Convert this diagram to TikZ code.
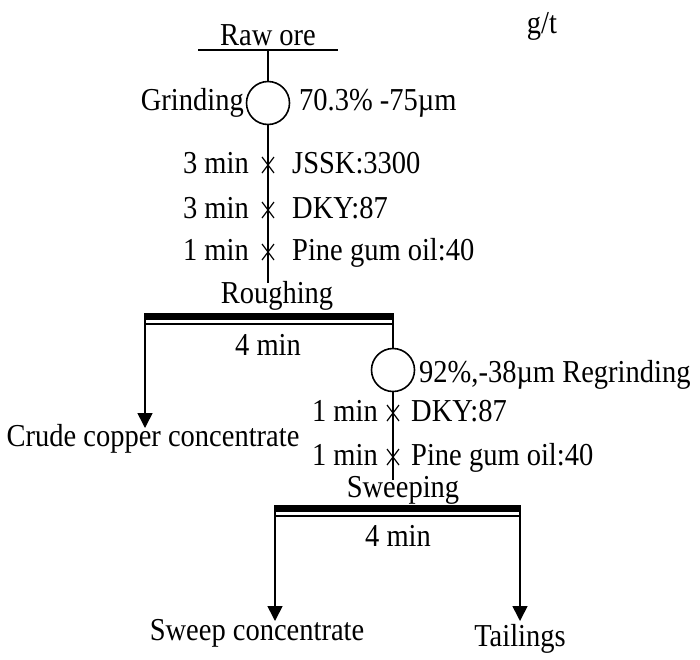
\documentclass[tikz,border=0pt]{standalone}
\usepackage{fontspec}
\setmainfont{Liberation Serif}
\usetikzlibrary{arrows.meta}
\newcommand{\tallt}[1]{\scalebox{1}[1.12]{#1}}
\begin{document}
\begin{tikzpicture}[x=1pt,y=-1pt,
  lbl/.style={inner sep=0pt,font=\fontsize{28.5}{30}\selectfont},
  ln/.style={line width=1.6pt},
  arr/.style={ln,-{Triangle[width=15pt,length=15pt]}},
  mill/.style={circle,draw,line width=1.6pt,minimum size=43pt,inner sep=0pt},
  thickbar/.style={line width=7pt},
  thinbar/.style={line width=1.6pt}]
\useasboundingbox (0,0) rectangle (700,659);
% raw ore
\node[lbl,anchor=base] (raw) at (268,45) {\tallt{Raw ore}};
\node[lbl,anchor=base] (gt) at (542,33) {\tallt{g/t}};
\coordinate (rawL) at (198,50);
\coordinate (rawR) at (338,50);
\coordinate (rawM) at (268,50);
\draw[ln] (rawL) -- (rawR);
\node[mill] (g1) at (268,103) {};
\draw[ln] (rawM) -- (g1.north);
\node[lbl,anchor=base east] (grindlbl) at (244,110) {\tallt{Grinding}};
\node[lbl,anchor=base west] (grindval) at (299,110) {\tallt{70.3\% -75µm}};
% reagents stage 1
\coordinate (r1top) at (268,283);
\draw[ln] (g1.south) -- (r1top);
\foreach \y/\t/\r [count=\i] in {165/3 min/JSSK:3300, 210/3 min/DKY:87, 252/1 min/Pine gum oil:40}{
  \coordinate (xa\i) at (268,\y);
  \draw[line width=1.2pt] ([shift={(-6,-8)}]xa\i) -- ([shift={(6,8)}]xa\i);
  \draw[line width=1.2pt] ([shift={(6,-8)}]xa\i) -- ([shift={(-6,8)}]xa\i);
  \node[lbl,anchor=base east] (ta\i) at ([shift={(-19,8)}]xa\i) {\tallt{\t}};
  \node[lbl,anchor=base west] (ra\i) at ([shift={(24,8)}]xa\i) {\tallt{\r}};
}
% roughing cell
\node[lbl,anchor=base] (rough) at (277,303) {\tallt{Roughing}};
\coordinate (c1L) at (145,316.5);
\coordinate (c1R) at (393,316.5);
\draw[thickbar] (c1L) -- (c1R);
\draw[thinbar] (145,324) -- (393,324);
\node[lbl,anchor=base] (rt) at (268,355) {\tallt{4 min}};
\coordinate (c1Ltop) at (145,313);
\coordinate (c1Rtop) at (393,313);
\coordinate (crudeTip) at (145,428);
\draw[arr] (c1Ltop) -- (crudeTip);
\node[lbl,anchor=base] (crude) at (153,446) {\tallt{Crude copper concentrate}};
\node[mill] (g2) at (393,370) {};
\draw[ln] (c1Rtop) -- (g2.north);
\node[lbl,anchor=base west] (regr) at (419,382) {\tallt{92\%,-38µm Regrinding}};
% reagents stage 2
\coordinate (r2top) at (393,480);
\draw[ln] (g2.south) -- (r2top);
\foreach \y/\t/\r [count=\i] in {413/1 min/DKY:87, 457/1 min/Pine gum oil:40}{
  \coordinate (xb\i) at (393,\y);
  \draw[line width=1.2pt] ([shift={(-6,-8)}]xb\i) -- ([shift={(6,8)}]xb\i);
  \draw[line width=1.2pt] ([shift={(6,-8)}]xb\i) -- ([shift={(-6,8)}]xb\i);
  \node[lbl,anchor=base east] (tb\i) at ([shift={(-15,8)}]xb\i) {\tallt{\t}};
  \node[lbl,anchor=base west] (rb\i) at ([shift={(18,8)}]xb\i) {\tallt{\r}};
}
% sweeping cell
\node[lbl,anchor=base] (sweep) at (403,497) {\tallt{Sweeping}};
\coordinate (c2L) at (275,508.5);
\coordinate (c2R) at (520,508.5);
\draw[thickbar] (c2L) -- (c2R);
\draw[thinbar] (275,516) -- (520,516);
\node[lbl,anchor=base] (st) at (398,546) {\tallt{4 min}};
\coordinate (c2Ltop) at (275,505);
\coordinate (c2Rtop) at (520,505);
\coordinate (sweepTip) at (275,621);
\coordinate (tailTip) at (520,621);
\draw[arr] (c2Ltop) -- (sweepTip);
\draw[arr] (c2Rtop) -- (tailTip);
\node[lbl,anchor=base] (sc) at (257,640) {\tallt{Sweep concentrate}};
\node[lbl,anchor=base] (tail) at (520,646) {\tallt{Tailings}};
\end{tikzpicture}
\end{document}
